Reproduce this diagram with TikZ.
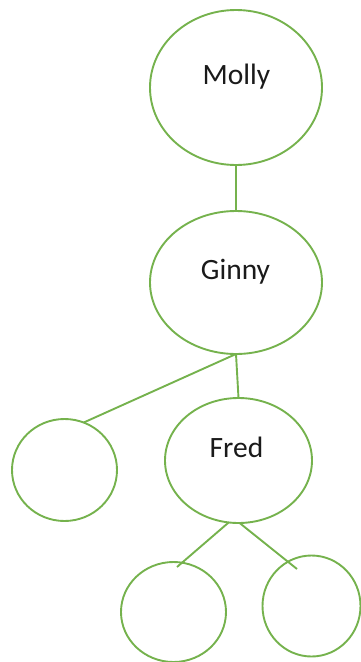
\documentclass[tikz,border=0pt]{standalone}
\usepackage{fontspec}
\setmainfont{Carlito}
\usetikzlibrary{shapes.geometric,calc}
\definecolor{lgreen}{HTML}{75B24D}
\definecolor{txt}{HTML}{1A1A1A}
\tikzset{
  person/.style={ellipse, draw=lgreen, line width=1.9pt, inner sep=0pt, outer sep=0pt},
  nametext/.style={anchor=base, text=txt, font=\fontsize{29.5}{29.5}\selectfont, inner sep=0pt},
  link/.style={draw=lgreen, line width=1.9pt}
}
\begin{document}
\begin{tikzpicture}[x=1pt, y=-1pt]
\useasboundingbox (0,0) rectangle (360,662);
\node[person, minimum width=172pt, minimum height=155pt] (molly) at (236,87.5) {};
\node[person, minimum width=172pt, minimum height=143pt] (ginny) at (236,282.5) {};
\node[person, minimum width=147pt, minimum height=125pt] (fred) at (238.5,460.5) {};
\node[person, minimum width=105pt, minimum height=102pt] (left) at (64.5,470) {};
\node[person, minimum width=105pt, minimum height=100pt] (bl) at (173.5,612) {};
\node[person, minimum width=98pt, minimum height=101pt] (br) at (311.5,606) {};
\node[nametext] (mollyt) at (236.5,84) {Molly};
\node[nametext] (ginnyt) at (235.5,279) {Ginny};
\node[nametext] (fredt) at (236.5,457) {Fred};
\coordinate (blend) at ($(bl.center)+(3.5,-45)$);
\coordinate (brend) at ($(br.center)+(-14.5,-37)$);
\draw[link] (molly.south) -- (ginny.north);
\draw[link] (ginny.south) -- (fred.north);
\draw[link] (ginny.south) -- (left.68);
\draw[link] (fred.261) -- (blend);
\draw[link] (fred.271) -- (brend);
\end{tikzpicture}
\end{document}
